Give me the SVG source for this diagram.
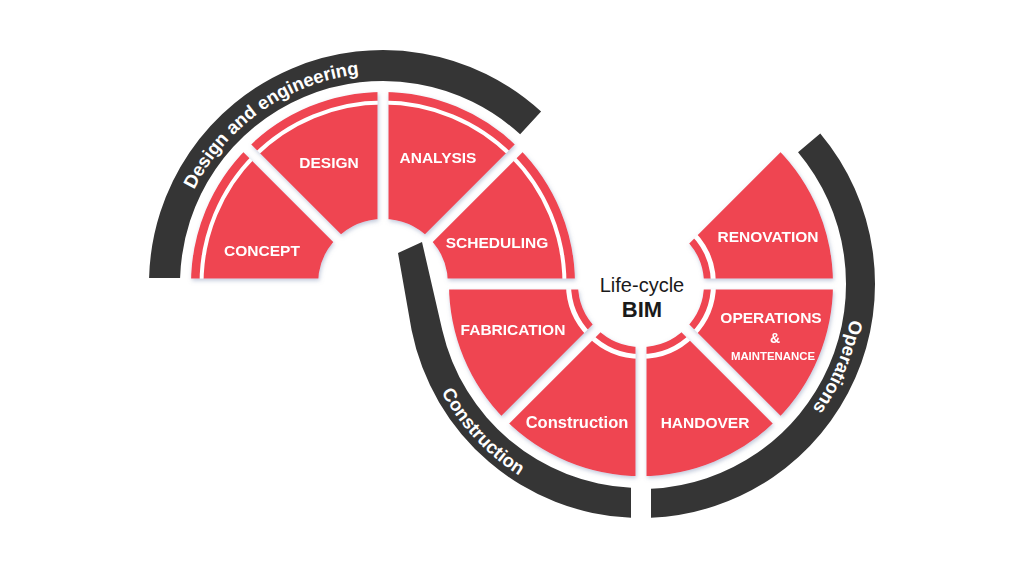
<svg xmlns="http://www.w3.org/2000/svg" width="1024" height="576" viewBox="0 0 1024 576">
<defs>
<style>
.sec{fill:#EF4451}
.ringL{fill:none;stroke:#fff;stroke-width:4}
.ringR{fill:none;stroke:#fff;stroke-width:5}
.lbl{font-family:"Liberation Sans",Arial,sans-serif;font-weight:bold;fill:#fff;text-anchor:middle;font-size:15.5px}
.band{fill:#353535}
.bandtxt{font-family:"Liberation Sans",Arial,sans-serif;font-weight:bold;fill:#fff;font-size:18.5px;text-anchor:middle}
.gap{fill:none;stroke:#000;stroke-width:11}
</style>
<filter id="sh" x="-10%" y="-10%" width="120%" height="120%">
<feDropShadow dx="1" dy="2" stdDeviation="2" flood-color="#8090b5" flood-opacity="0.5"/>
</filter>
<mask id="gapL" maskUnits="userSpaceOnUse" x="0" y="0" width="1024" height="576">
<rect width="1024" height="576" fill="#fff"/>
<path class="gap" d="M150,284H620M383,284L220,121M383,284V50M383,284L546,121"/>
</mask>
<mask id="gapR" maskUnits="userSpaceOnUse" x="0" y="0" width="1024" height="576">
<rect width="1024" height="576" fill="#fff"/>
<path class="gap" d="M420,284H860M641,284V520M641,284L818,461M641,284L464,461M641,284L818,107"/>
</mask>
<path id="tpDesign" d="M172,284A211,211 0 0 1 594,284"/>
<path id="tpConstr" d="M414,284A227,227 0 0 0 641,511"/>
<path id="tpOps" d="M803.40,147.73A212,212 0 0 1 641,496"/>
</defs>
<rect width="1024" height="576" fill="#fff"/>

<g id="phase-design">
<path class="band" d="M149.08,278A234,234 0 0 1 541.09,111.48L520.14,134.33A203,203 0 0 0 180.1,278Z"/>
<text class="bandtxt"><textPath href="#tpDesign" startOffset="202.5">Design and engineering</textPath></text>
</g>
<g id="phase-construction">
<path class="band" d="M631,517.79A234,234 0 0 1 411.57,330L398,253L422,242L442.25,330A204,204 0 0 0 631,487.75Z"/>
<text class="bandtxt"><textPath href="#tpConstr" startOffset="170.4">Construction</textPath></text>
</g>
<g id="phase-operations">
<path class="band" d="M651,517.79A234,234 0 0 0 820.25,133.59L798.04,152.23A205,205 0 0 1 651,488.76Z"/>
<text class="bandtxt"><textPath href="#tpOps" startOffset="232.4">Operations</textPath></text>
</g>

<g filter="url(#sh)">
<g mask="url(#gapL)">
<g id="concept">
<path class="sec" d="M191,284A192,192 0 0 1 247.24,148.24L337.04,238.04A65,65 0 0 0 318,284Z"/>
<path class="ringL" d="M201.5,284A181.5,181.5 0 0 1 254.66,155.66"/>
<text class="lbl" x="262" y="256">CONCEPT</text>
</g>
<g id="design">
<path class="sec" d="M247.24,148.24A192,192 0 0 1 383,92L383,219A65,65 0 0 0 337.04,238.04Z"/>
<path class="ringL" d="M254.66,155.66A181.5,181.5 0 0 1 383,102.5"/>
<text class="lbl" x="329" y="168">DESIGN</text>
</g>
<g id="analysis">
<path class="sec" d="M383,92A192,192 0 0 1 518.76,148.24L428.96,238.04A65,65 0 0 0 383,219Z"/>
<path class="ringL" d="M383,102.5A181.5,181.5 0 0 1 511.34,155.66"/>
<text class="lbl" x="438" y="163">ANALYSIS</text>
</g>
<g id="scheduling">
<path class="sec" d="M518.76,148.24A192,192 0 0 1 575,284L448,284A65,65 0 0 0 428.96,238.04Z"/>
<path class="ringL" d="M511.34,155.66A181.5,181.5 0 0 1 564.5,284"/>
<text class="lbl" x="497" y="248">SCHEDULING</text>
</g>
</g>
<g mask="url(#gapR)">
<g id="renovation">
<path class="sec" d="M776.76,148.24A192,192 0 0 1 833,284L704,284A63,63 0 0 0 685.55,239.45Z"/>
<path class="ringR" d="M692.27,232.73A72.5,72.5 0 0 1 713.5,284"/>
<text class="lbl" x="768" y="242">RENOVATION</text>
</g>
<g id="operations-maintenance">
<path class="sec" d="M833,284A192,192 0 0 1 776.76,419.76L685.55,328.55A63,63 0 0 0 704,284Z"/>
<path class="ringR" d="M713.5,284A72.5,72.5 0 0 1 692.27,335.27"/>
<text class="lbl" x="771" y="323">OPERATIONS</text>
<text class="lbl" x="775" y="343" style="font-size:14px">&amp;</text>
<text class="lbl" x="773" y="360" style="font-size:11.4px">MAINTENANCE</text>
</g>
<g id="handover">
<path class="sec" d="M776.76,419.76A192,192 0 0 1 641,476L641,347A63,63 0 0 0 685.55,328.55Z"/>
<path class="ringR" d="M692.27,335.27A72.5,72.5 0 0 1 641,356.5"/>
<text class="lbl" x="705" y="428">HANDOVER</text>
</g>
<g id="construction">
<path class="sec" d="M641,476A192,192 0 0 1 505.24,419.76L596.45,328.55A63,63 0 0 0 641,347Z"/>
<path class="ringR" d="M641,356.5A72.5,72.5 0 0 1 589.73,335.27"/>
<text class="lbl" x="577" y="428" style="font-size:16.5px">Construction</text>
</g>
<g id="fabrication">
<path class="sec" d="M505.24,419.76A192,192 0 0 1 449,284L578,284A63,63 0 0 0 596.45,328.55Z"/>
<path class="ringR" d="M589.73,335.27A72.5,72.5 0 0 1 568.5,284"/>
<text class="lbl" x="513" y="335">FABRICATION</text>
</g>
</g>
</g>

<g id="center" font-family="'Liberation Sans',Arial,sans-serif" fill="#1a1a1a" text-anchor="middle">
<text x="642" y="292" font-size="20">Life-cycle</text>
<text x="642" y="317" font-size="22" font-weight="bold">BIM</text>
</g>
</svg>
